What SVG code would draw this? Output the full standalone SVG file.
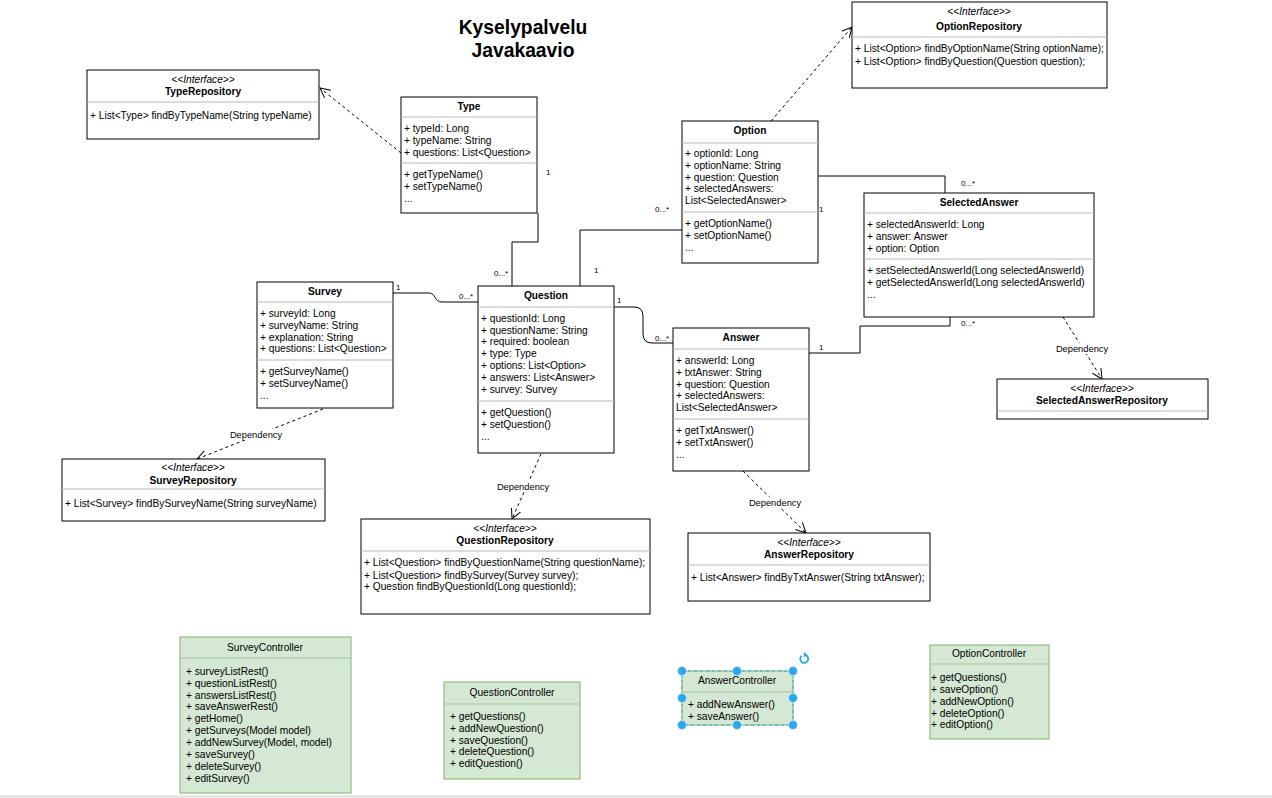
<svg xmlns="http://www.w3.org/2000/svg" width="1272" height="798" viewBox="0 0 1272 798">
<defs>
<style>
text{font-family:"Liberation Sans",Arial,sans-serif;fill:#000}
.t{font-size:10.2px}
.b{font-size:10.2px;font-weight:bold}
.i{font-size:10.2px;font-style:italic}
.m{font-size:8px}
.dl{font-size:9.3px}
.title{font-size:19.3px;font-weight:bold}
.box{fill:#fff;stroke:#000;stroke-width:1}
.div{stroke:#b8b8b8;stroke-width:1}
.gbox{fill:#d5e8d4;stroke:#82b366;stroke-width:1}
.gdiv{stroke:#a9c3a0;stroke-width:1}
.assoc{fill:none;stroke:#000;stroke-width:1}
.dep{fill:none;stroke:#000;stroke-width:1;stroke-dasharray:3,3}
.h{fill:#29a8f0;stroke:#fff;stroke-width:0.5}
</style>
<marker id="open" markerWidth="12" markerHeight="12" refX="10" refY="5" orient="auto" markerUnits="userSpaceOnUse" viewBox="0 0 12 10">
<path d="M0,0 L10,5 L0,10" fill="none" stroke="#000" stroke-width="1"/>
</marker>
</defs>
<rect width="1272" height="798" fill="#fff"/>
<rect x="0" y="795" width="1272" height="3" fill="#e6e6e6"/>

<g id="title">
<text class="title" x="523" y="34" text-anchor="middle">Kyselypalvelu</text>
<text class="title" x="523" y="57" text-anchor="middle">Javakaavio</text>
</g>

<g id="connectors">
<path class="assoc" d="M538,213 V242 H512 V286"/>
<path class="assoc" d="M580,286 V230 H682"/>
<path class="assoc" d="M818,176 H945 V193"/>
<path class="assoc" d="M393,293 H429 C436,293 434,302 442,302 H478"/>
<path class="assoc" d="M614,307 H634 Q643,307 643,316 V334 Q643,343 652,343 H673"/>
<path class="assoc" d="M809,353 H860 V326 H950 V317"/>
<path class="dep" d="M401,153 L320,88" marker-end="url(#open)"/>
<path class="dep" d="M771,121 L852,27" marker-end="url(#open)"/>
<path class="dep" d="M323,409 L197,459" marker-end="url(#open)"/>
<path class="dep" d="M541,454 L512,519" marker-end="url(#open)"/>
<path class="dep" d="M743,471 L806,533" marker-end="url(#open)"/>
<path class="dep" d="M1063,317 L1102,379" marker-end="url(#open)"/>
<rect x="229" y="429" width="55" height="11" fill="#fff"/>
<text class="dl" x="256" y="438" text-anchor="middle">Dependency</text>
<rect x="496" y="481" width="55" height="11" fill="#fff"/>
<text class="dl" x="523" y="490" text-anchor="middle">Dependency</text>
<rect x="748" y="497" width="55" height="11" fill="#fff"/>
<text class="dl" x="775" y="506" text-anchor="middle">Dependency</text>
<rect x="1055" y="343" width="55" height="11" fill="#fff"/>
<text class="dl" x="1082" y="352" text-anchor="middle">Dependency</text>
<text class="m" x="546" y="175">1</text>
<text class="m" x="494" y="276">0...*</text>
<text class="m" x="594" y="273">1</text>
<text class="m" x="655" y="212">0...*</text>
<text class="m" x="819" y="212">1</text>
<text class="m" x="961" y="186">0...*</text>
<text class="m" x="396" y="290">1</text>
<text class="m" x="459" y="299">0...*</text>
<text class="m" x="617" y="303">1</text>
<text class="m" x="655" y="341">0...*</text>
<text class="m" x="819" y="350">1</text>
<text class="m" x="961" y="326">0...*</text>
</g>

<g id="TypeRepository">
<rect class="box" x="87" y="70" width="232" height="69"/>
<line class="div" x1="87" y1="102" x2="319" y2="102"/>
<text class="i" x="203" y="83" text-anchor="middle">&lt;&lt;Interface&gt;&gt;</text>
<text class="b" x="203" y="95" text-anchor="middle">TypeRepository</text>
<text class="t" x="90" y="119">+ List&lt;Type&gt; findByTypeName(String typeName)</text>
</g>

<g id="Type">
<rect class="box" x="401" y="97" width="136" height="116"/>
<line class="div" x1="401" y1="117" x2="537" y2="117"/>
<line class="div" x1="401" y1="163" x2="537" y2="163"/>
<text class="b" x="469" y="110" text-anchor="middle">Type</text>
<text class="t" x="404" y="132">+ typeId: Long</text>
<text class="t" x="404" y="144">+ typeName: String</text>
<text class="t" x="404" y="156">+ questions: List&lt;Question&gt;</text>
<text class="t" x="404" y="178">+ getTypeName()</text>
<text class="t" x="404" y="190">+ setTypeName()</text>
<text class="t" x="404" y="202">...</text>
</g>

<g id="OptionRepository">
<rect class="box" x="852" y="2" width="255" height="86"/>
<line class="div" x1="852" y1="37" x2="1107" y2="37"/>
<text class="i" x="979" y="15" text-anchor="middle">&lt;&lt;Interface&gt;&gt;</text>
<text class="b" x="979" y="30" text-anchor="middle">OptionRepository</text>
<text class="t" x="855" y="52">+ List&lt;Option&gt; findByOptionName(String optionName);</text>
<text class="t" x="855" y="65">+ List&lt;Option&gt; findByQuestion(Question question);</text>
</g>

<g id="Option">
<rect class="box" x="682" y="121" width="136" height="142"/>
<line class="div" x1="682" y1="143" x2="818" y2="143"/>
<line class="div" x1="682" y1="212" x2="818" y2="212"/>
<text class="b" x="750" y="134" text-anchor="middle">Option</text>
<text class="t" x="685" y="157">+ optionId: Long</text>
<text class="t" x="685" y="169">+ optionName: String</text>
<text class="t" x="685" y="181">+ question: Question</text>
<text class="t" x="685" y="192">+ selectedAnswers:</text>
<text class="t" x="685" y="204">List&lt;SelectedAnswer&gt;</text>
<text class="t" x="685" y="227">+ getOptionName()</text>
<text class="t" x="685" y="239">+ setOptionName()</text>
<text class="t" x="685" y="251">...</text>
</g>

<g id="SelectedAnswer">
<rect class="box" x="864" y="193" width="230" height="124"/>
<line class="div" x1="864" y1="213" x2="1094" y2="213"/>
<line class="div" x1="864" y1="259" x2="1094" y2="259"/>
<text class="b" x="979" y="206" text-anchor="middle">SelectedAnswer</text>
<text class="t" x="867" y="228">+ selectedAnswerId: Long</text>
<text class="t" x="867" y="240">+ answer: Answer</text>
<text class="t" x="867" y="252">+ option: Option</text>
<text class="t" x="867" y="274">+ setSelectedAnswerId(Long selectedAnswerId)</text>
<text class="t" x="867" y="286">+ getSelectedAnswerId(Long selectedAnswerId)</text>
<text class="t" x="867" y="298">...</text>
</g>

<g id="SelectedAnswerRepository">
<rect class="box" x="997" y="379" width="211" height="40"/>
<line class="div" x1="997" y1="411" x2="1208" y2="411"/>
<text class="i" x="1102" y="392" text-anchor="middle">&lt;&lt;Interface&gt;&gt;</text>
<text class="b" x="1102" y="404" text-anchor="middle">SelectedAnswerRepository</text>
</g>

<g id="Survey">
<rect class="box" x="257" y="282" width="136" height="126"/>
<line class="div" x1="257" y1="302" x2="393" y2="302"/>
<line class="div" x1="257" y1="360" x2="393" y2="360"/>
<text class="b" x="325" y="295" text-anchor="middle">Survey</text>
<text class="t" x="260" y="317">+ surveyId: Long</text>
<text class="t" x="260" y="329">+ surveyName: String</text>
<text class="t" x="260" y="341">+ explanation: String</text>
<text class="t" x="260" y="352">+ questions: List&lt;Question&gt;</text>
<text class="t" x="260" y="375">+ getSurveyName()</text>
<text class="t" x="260" y="387">+ setSurveyName()</text>
<text class="t" x="260" y="399">...</text>
</g>

<g id="Question">
<rect class="box" x="478" y="286" width="136" height="167"/>
<line class="div" x1="478" y1="307" x2="614" y2="307"/>
<line class="div" x1="478" y1="401" x2="614" y2="401"/>
<text class="b" x="546" y="299" text-anchor="middle">Question</text>
<text class="t" x="481" y="322">+ questionId: Long</text>
<text class="t" x="481" y="334">+ questionName: String</text>
<text class="t" x="481" y="345">+ required: boolean</text>
<text class="t" x="481" y="357">+ type: Type</text>
<text class="t" x="481" y="369">+ options: List&lt;Option&gt;</text>
<text class="t" x="481" y="381">+ answers: List&lt;Answer&gt;</text>
<text class="t" x="481" y="393">+ survey: Survey</text>
<text class="t" x="481" y="416">+ getQuestion()</text>
<text class="t" x="481" y="428">+ setQuestion()</text>
<text class="t" x="481" y="440">...</text>
</g>

<g id="Answer">
<rect class="box" x="673" y="328" width="136" height="143"/>
<line class="div" x1="673" y1="349" x2="809" y2="349"/>
<line class="div" x1="673" y1="419" x2="809" y2="419"/>
<text class="b" x="741" y="341" text-anchor="middle">Answer</text>
<text class="t" x="676" y="364">+ answerId: Long</text>
<text class="t" x="676" y="376">+ txtAnswer: String</text>
<text class="t" x="676" y="388">+ question: Question</text>
<text class="t" x="676" y="399">+ selectedAnswers:</text>
<text class="t" x="676" y="411">List&lt;SelectedAnswer&gt;</text>
<text class="t" x="676" y="434">+ getTxtAnswer()</text>
<text class="t" x="676" y="446">+ setTxtAnswer()</text>
<text class="t" x="676" y="458">...</text>
</g>

<g id="SurveyRepository">
<rect class="box" x="62" y="459" width="263" height="62"/>
<line class="div" x1="62" y1="489" x2="325" y2="489"/>
<text class="i" x="193" y="471" text-anchor="middle">&lt;&lt;Interface&gt;&gt;</text>
<text class="b" x="193" y="484" text-anchor="middle">SurveyRepository</text>
<text class="t" x="65" y="507">+ List&lt;Survey&gt; findBySurveyName(String surveyName)</text>
</g>

<g id="QuestionRepository">
<rect class="box" x="361" y="519" width="289" height="95"/>
<line class="div" x1="361" y1="551" x2="650" y2="551"/>
<text class="i" x="505" y="532" text-anchor="middle">&lt;&lt;Interface&gt;&gt;</text>
<text class="b" x="505" y="544" text-anchor="middle">QuestionRepository</text>
<text class="t" x="364" y="566">+ List&lt;Question&gt; findByQuestionName(String questionName);</text>
<text class="t" x="364" y="579">+ List&lt;Question&gt; findBySurvey(Survey survey);</text>
<text class="t" x="364" y="590">+ Question findByQuestionId(Long questionId);</text>
</g>

<g id="AnswerRepository">
<rect class="box" x="688" y="533" width="242" height="68"/>
<line class="div" x1="688" y1="565" x2="930" y2="565"/>
<text class="i" x="809" y="546" text-anchor="middle">&lt;&lt;Interface&gt;&gt;</text>
<text class="b" x="809" y="558" text-anchor="middle">AnswerRepository</text>
<text class="t" x="691" y="581">+ List&lt;Answer&gt; findByTxtAnswer(String txtAnswer);</text>
</g>

<g id="SurveyController">
<rect class="gbox" x="180" y="637" width="171" height="156"/>
<line class="gdiv" x1="180" y1="658" x2="351" y2="658"/>
<text class="t" x="265" y="651" text-anchor="middle">SurveyController</text>
<text class="t" x="186" y="675">+ surveyListRest()</text>
<text class="t" x="186" y="687">+ questionListRest()</text>
<text class="t" x="186" y="699">+ answersListRest()</text>
<text class="t" x="186" y="710">+ saveAnswerRest()</text>
<text class="t" x="186" y="722">+ getHome()</text>
<text class="t" x="186" y="734">+ getSurveys(Model model)</text>
<text class="t" x="186" y="746">+ addNewSurvey(Model, model)</text>
<text class="t" x="186" y="758">+ saveSurvey()</text>
<text class="t" x="186" y="770">+ deleteSurvey()</text>
<text class="t" x="186" y="782">+ editSurvey()</text>
</g>

<g id="QuestionController">
<rect class="gbox" x="444" y="682" width="136" height="97"/>
<line class="gdiv" x1="444" y1="704" x2="580" y2="704"/>
<text class="t" x="512" y="696" text-anchor="middle">QuestionController</text>
<text class="t" x="450" y="720">+ getQuestions()</text>
<text class="t" x="450" y="732">+ addNewQuestion()</text>
<text class="t" x="450" y="744">+ saveQuestion()</text>
<text class="t" x="450" y="755">+ deleteQuestion()</text>
<text class="t" x="450" y="767">+ editQuestion()</text>
</g>

<g id="AnswerController">
<rect class="gbox" x="682" y="671" width="111" height="54"/>
<line class="gdiv" x1="682" y1="692" x2="793" y2="692"/>
<rect x="682" y="671" width="111" height="54" fill="none" stroke="#29a8f0" stroke-width="1" stroke-dasharray="3,3"/>
<text class="t" x="737" y="684" text-anchor="middle">AnswerController</text>
<text class="t" x="688" y="708">+ addNewAnswer()</text>
<text class="t" x="688" y="720">+ saveAnswer()</text>
<circle class="h" cx="682" cy="671" r="4.5"/>
<circle class="h" cx="737" cy="671" r="4.5"/>
<circle class="h" cx="793" cy="671" r="4.5"/>
<circle class="h" cx="682" cy="698" r="4.5"/>
<circle class="h" cx="793" cy="698" r="4.5"/>
<circle class="h" cx="682" cy="725" r="4.5"/>
<circle class="h" cx="737" cy="725" r="4.5"/>
<circle class="h" cx="793" cy="725" r="4.5"/>
<path d="M801.5,656 A4,4 0 1 0 805,655" fill="none" stroke="#29a8f0" stroke-width="1.8"/>
<path d="M804,652 L807.5,655 L803.5,657.5 Z" fill="#29a8f0"/>
</g>

<g id="OptionController">
<rect class="gbox" x="930" y="645" width="119" height="94"/>
<line class="gdiv" x1="930" y1="664" x2="1049" y2="664"/>
<text class="t" x="989" y="657" text-anchor="middle">OptionController</text>
<text class="t" x="931" y="681">+ getQuestions()</text>
<text class="t" x="931" y="693">+ saveOption()</text>
<text class="t" x="931" y="705">+ addNewOption()</text>
<text class="t" x="931" y="717">+ deleteOption()</text>
<text class="t" x="931" y="728">+ editOption()</text>
</g>
</svg>
